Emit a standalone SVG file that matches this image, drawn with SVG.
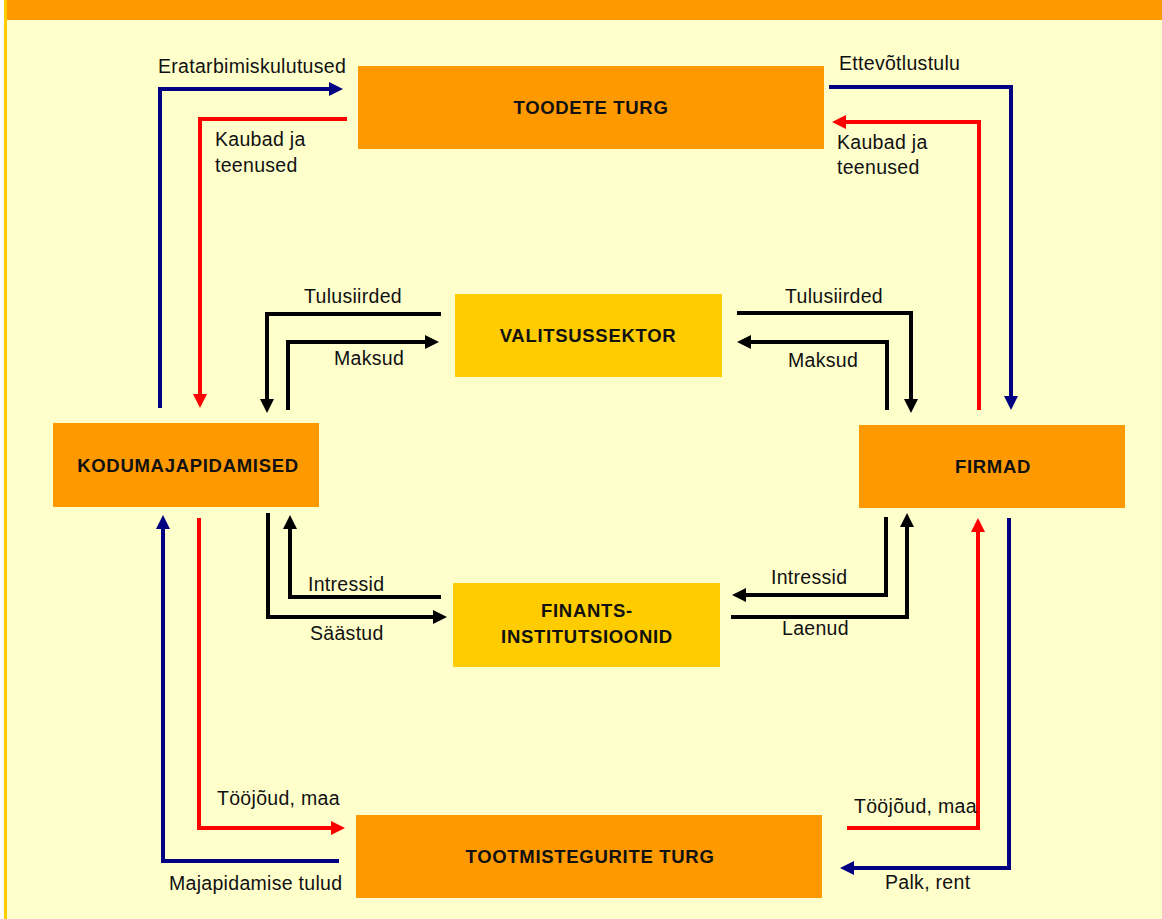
<svg xmlns="http://www.w3.org/2000/svg" width="1162" height="919" viewBox="0 0 1162 919">
<style>
.lbl{font-family:"Liberation Sans",Arial,sans-serif;font-size:19.5px;letter-spacing:0.3px;fill:#111}
.box{font-family:"Liberation Sans",Arial,sans-serif;font-size:18.5px;letter-spacing:0.7px;font-weight:bold;fill:#111;text-anchor:middle}
.or{fill:#FF9900}
.ye{fill:#FFCC00}
.b{fill:none;stroke:#000080;stroke-width:4}
.r{fill:none;stroke:#FF0000;stroke-width:4}
.k{fill:none;stroke:#000;stroke-width:4}
</style>
<defs>
<marker id="ab" markerUnits="userSpaceOnUse" markerWidth="16" markerHeight="16" refX="8" refY="7" orient="auto"><path d="M0,0 L14,7 L0,14 z" fill="#000080"/></marker>
<marker id="ar" markerUnits="userSpaceOnUse" markerWidth="16" markerHeight="16" refX="8" refY="7" orient="auto"><path d="M0,0 L14,7 L0,14 z" fill="#FF0000"/></marker>
<marker id="ak" markerUnits="userSpaceOnUse" markerWidth="16" markerHeight="16" refX="8" refY="7" orient="auto"><path d="M0,0 L14,7 L0,14 z" fill="#000"/></marker>
</defs>
<rect x="0" y="0" width="1162" height="919" fill="#fff"/>
<rect x="7" y="0" width="1155" height="919" fill="#FFFFCC"/>
<rect x="7" y="0" width="1155" height="20" class="or"/>
<rect x="4" y="0" width="3" height="919" class="ye"/>

<g id="connectors">
<polyline class="b" points="160,408 160,89 337,89" marker-end="url(#ab)"/>
<polyline class="r" points="347,119 200,119 200,402" marker-end="url(#ar)"/>
<polyline class="b" points="829,87 1011,87 1011,404" marker-end="url(#ab)"/>
<polyline class="r" points="979,410 979,122 838,122" marker-end="url(#ar)"/>
<polyline class="k" points="441,314 267,314 267,407" marker-end="url(#ak)"/>
<polyline class="k" points="288,410 288,342 433,342" marker-end="url(#ak)"/>
<polyline class="k" points="737,313 911,313 911,407" marker-end="url(#ak)"/>
<polyline class="k" points="887,410 887,342 743,342" marker-end="url(#ak)"/>
<polyline class="k" points="268,513 268,617 441,617" marker-end="url(#ak)"/>
<polyline class="k" points="441,597 290,597 290,521" marker-end="url(#ak)"/>
<polyline class="k" points="886,517 886,595 738,595" marker-end="url(#ak)"/>
<polyline class="k" points="731,617 907,617 907,519" marker-end="url(#ak)"/>
<polyline class="r" points="199,518 199,828 339,828" marker-end="url(#ar)"/>
<polyline class="b" points="339,861 163,861 163,521" marker-end="url(#ab)"/>
<polyline class="r" points="847,828 978,828 978,524" marker-end="url(#ar)"/>
<polyline class="b" points="1009,518 1009,868 846,868" marker-end="url(#ab)"/>
</g>

<g id="labels">
<text class="lbl" x="158" y="73">Eratarbimiskulutused</text>
<text class="lbl" x="215" y="146">Kaubad ja</text>
<text class="lbl" x="215" y="172">teenused</text>
<text class="lbl" x="839" y="70">Ettevõtlustulu</text>
<text class="lbl" x="837" y="149">Kaubad ja</text>
<text class="lbl" x="837" y="174">teenused</text>
<text class="lbl" x="304" y="303">Tulusiirded</text>
<text class="lbl" x="334" y="365">Maksud</text>
<text class="lbl" x="785" y="303">Tulusiirded</text>
<text class="lbl" x="788" y="367">Maksud</text>
<text class="lbl" x="308" y="591">Intressid</text>
<text class="lbl" x="310" y="640">Säästud</text>
<text class="lbl" x="771" y="584">Intressid</text>
<text class="lbl" x="782" y="635">Laenud</text>
<text class="lbl" x="217" y="805">Tööjõud, maa</text>
<text class="lbl" x="169" y="890">Majapidamise tulud</text>
<text class="lbl" x="854" y="813">Tööjõud, maa</text>
<text class="lbl" x="885" y="889">Palk, rent</text>
</g>

<g id="toodete-turg"><rect x="358" y="66" width="466" height="83" class="or"/><text class="box" x="591" y="114">TOODETE TURG</text></g>
<g id="valitsussektor"><rect x="455" y="294" width="267" height="83" class="ye"/><text class="box" x="588" y="342">VALITSUSSEKTOR</text></g>
<g id="kodumajapidamised"><rect x="53" y="423" width="266" height="84" class="or"/><text class="box" x="188" y="472">KODUMAJAPIDAMISED</text></g>
<g id="firmad"><rect x="859" y="425" width="266" height="83" class="or"/><text class="box" x="993" y="473">FIRMAD</text></g>
<g id="finants"><rect x="453" y="583" width="267" height="84" class="ye"/><text class="box" x="587" y="617">FINANTS-</text><text class="box" x="587" y="643">INSTITUTSIOONID</text></g>
<g id="tootmistegurite-turg"><rect x="356" y="815" width="466" height="83" class="or"/><text class="box" x="590" y="863">TOOTMISTEGURITE TURG</text></g>
</svg>
